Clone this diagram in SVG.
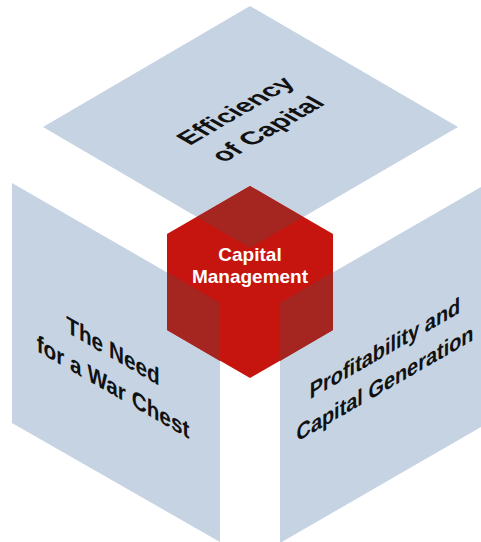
<svg xmlns="http://www.w3.org/2000/svg" width="481" height="542" viewBox="0 0 481 542">
  <style>
    .panel { fill: #c5d3e3; }
    .label { font-family: "Liberation Sans", Arial, sans-serif; font-weight: bold; fill: #111111; text-anchor: middle; }
    .core-label { font-family: "Liberation Sans", Arial, sans-serif; font-weight: bold; fill: #ffffff; text-anchor: middle; font-size: 19px; }
    .red-base { fill: #c6140f; }
    .red-dark { fill: #a52621; }
  </style>
  <rect width="481" height="542" fill="#ffffff"/>

  <!-- top face: text laid flat with an isometric transform -->
  <g id="efficiency">
    <polygon class="panel" points="250,6 458,127 250,248 43,127"/>
    <g transform="matrix(0.866,-0.5,0.866,0.5,243,115)">
      <text class="label" font-size="26" x="0" y="0">Efficiency</text>
      <text class="label" font-size="26" x="0" y="37">of Capital</text>
    </g>
  </g>

  <!-- left face -->
  <g id="war-chest">
    <polygon class="panel" points="12,183 220,303 220,542 12,423"/>
    <g transform="matrix(0.866,0.5,0,1,113,359)">
      <text class="label" font-size="24" x="0" y="0">The Need</text>
      <text class="label" font-size="24" x="0" y="36">for a War Chest</text>
    </g>
  </g>

  <!-- right face -->
  <g id="profitability">
    <polygon class="panel" points="280,303 488,183 488,423 280,543"/>
    <g transform="matrix(0.866,-0.5,0,1,385,356)">
      <text class="label" font-size="23" x="0" y="0">Profitability and</text>
      <text class="label" font-size="23" x="0" y="35">Capital Generation</text>
    </g>
  </g>

  <!-- central cube -->
  <g id="capital-management">
    <polygon class="red-base" points="250,186 333,234 333,330 250,378 167,330 167,234"/>
    <polygon class="red-dark" points="250,186 303,217 250,248 197,217"/>
    <polygon class="red-dark" points="167,272 220,303 220,361 167,330"/>
    <polygon class="red-dark" points="333,272 280,303 280,361 333,330"/>
    <text class="core-label" x="250" y="261">Capital</text>
    <text class="core-label" x="250" y="283">Management</text>
  </g>

  <g id="connectors"/>
</svg>
